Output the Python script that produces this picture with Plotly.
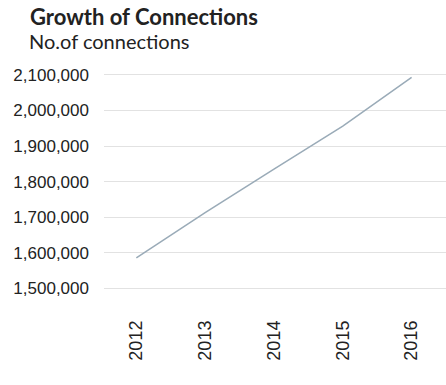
import plotly.graph_objects as go

years = [2012, 2013, 2014, 2015, 2016]
connections = [1586000, 1713000, 1835000, 1956000, 2093000]
y_ticks = [1500000, 1600000, 1700000, 1800000, 1900000, 2000000, 2100000]
y_tick_labels = ["1,500,000", "1,600,000", "1,700,000", "1,800,000", "1,900,000", "2,000,000", "2,100,000"]
title_text = "Growth of Connections"
subtitle_text = "No.of connections"

W, H = 446, 385
left = 104
top, bottom_px = 73.2, 291.6
ph = bottom_px - top

def py(px):
    return (bottom_px - px) / ph

def pxx(px):
    return (px - left) / (W - left)

fig = go.Figure()
fig.add_trace(go.Scatter(
    x=years, y=connections, mode="lines",
    line=dict(color="#9aabb8", width=1.5),
    hoverinfo="skip", showlegend=False,
))

fig.update_layout(
    width=W, height=H,
    margin=dict(l=left, r=0, t=top, b=H - bottom_px, pad=0),
    paper_bgcolor="white", plot_bgcolor="white",
    xaxis=dict(
        range=[2011.53, 2016.5], tickmode="array", tickvals=years,
        ticktext=[str(y) for y in years], tickangle=-90,
        showgrid=False, zeroline=False, showline=False, ticks="",
        ticklabelstandoff=24,
        tickfont=dict(family="Liberation Sans, Arial", size=18, color="#222"),
    ),
    yaxis=dict(
        range=[1490000, 2105000], tickmode="array", tickvals=y_ticks,
        ticktext=y_tick_labels, showgrid=True, gridcolor="#e2e2e2", gridwidth=1,
        zeroline=False, showline=False, ticks="", ticklabelstandoff=14,
        tickfont=dict(family="Liberation Sans, Arial", size=17, color="#222"),
    ),
    annotations=[
        dict(text="<b>" + title_text + "</b>", xref="paper", yref="paper",
             x=pxx(28), y=py(16.5), xanchor="left", yanchor="middle",
             showarrow=False, font=dict(family="Lato", size=22, color="#222")),
        dict(text=subtitle_text, xref="paper", yref="paper",
             x=pxx(27), y=py(41.5), xanchor="left", yanchor="middle",
             showarrow=False, font=dict(family="Lato", size=20, color="#222")),
    ],
)

fig.write_html("out.html", config={"displayModeBar": False},
               post_script="document.body.style.margin='0';")
